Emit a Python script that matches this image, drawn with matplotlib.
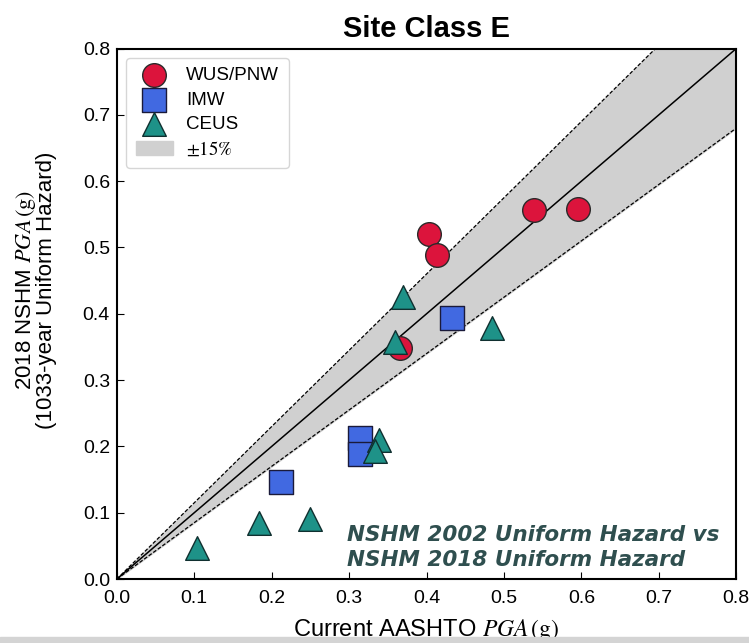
import numpy as np
import matplotlib.pyplot as plt
from matplotlib.patches import Rectangle

plt.rcParams['font.family'] = ['Liberation Sans', 'DejaVu Sans']
plt.rcParams['mathtext.fontset'] = 'stix'

# PGA values: current AASHTO (x) vs 2018 NSHM (y)
wus_x = [0.403, 0.413, 0.366, 0.539, 0.596]
wus_y = [0.520, 0.488, 0.348, 0.557, 0.558]

imw_x = [0.433, 0.314, 0.314, 0.212]
imw_y = [0.393, 0.213, 0.188, 0.147]

ceus_x = [0.370, 0.359, 0.484, 0.338, 0.333, 0.184, 0.249, 0.104]
ceus_y = [0.425, 0.358, 0.378, 0.210, 0.193, 0.085, 0.090, 0.047]

band = 0.15
ticks = [0.0, 0.1, 0.2, 0.3, 0.4, 0.5, 0.6, 0.7, 0.8]

fig = plt.figure(figsize=(7.49, 6.43), dpi=100)
ax = fig.add_axes([0.156, 0.0995, 0.827, 0.825])

# +/-15% band around the 1:1 line
xx = np.linspace(0, 0.8, 200)
ax.fill_between(xx, xx * (1 - band), xx * (1 + band), color='#d0d0d0',
                label='$\\pm 15\\%$', zorder=1)
ax.plot(xx, xx * (1 + band), color='k', lw=0.9, ls=(0, (3, 1.5)), zorder=2)
ax.plot(xx, xx * (1 - band), color='k', lw=0.9, ls=(0, (3, 1.5)), zorder=2)
ax.plot(xx, xx, color='k', lw=1.1, zorder=2)

ms = 290
ax.scatter(wus_x, wus_y, s=ms, marker='o', color='#dc143c', edgecolor='#2a2a2a',
           linewidth=1, label='WUS/PNW', zorder=3)
ax.scatter(imw_x, imw_y, s=ms, marker='s', color='#4169e1', edgecolor='#1a1a3a',
           linewidth=1, label='IMW', zorder=3)
ax.scatter(ceus_x, ceus_y, s=ms, marker='^', color='#1e9288', edgecolor='#103030',
           linewidth=1, label='CEUS', zorder=4)

ax.set_xlim(0, 0.8)
ax.set_ylim(0, 0.8)
ax.set_xticks(ticks)
ax.set_yticks(ticks)
ax.set_xticklabels([f'{t:.1f}' for t in ticks])
ax.set_yticklabels([f'{t:.1f}' for t in ticks])
ax.tick_params(direction='in', labelsize=14, length=5, pad=5)
ax.tick_params(axis='x', pad=8)
for sp in ax.spines.values():
    sp.set_linewidth(1.5)

ax.set_title('Site Class E', fontsize=21, fontweight='bold', pad=8)
ax.set_xlabel('Current AASHTO $PGA\\,\\mathrm{(g)}$', fontsize=17, labelpad=7)
ax.set_ylabel('2018 NSHM $PGA\\,\\mathrm{(g)}$\n(1033-year Uniform Hazard)',
              fontsize=16, linespacing=0.85)
ax.yaxis.set_label_coords(-0.097, 0.545)

handles, labels = ax.get_legend_handles_labels()
order = [1, 2, 3, 0]
ax.legend([handles[i] for i in order], [labels[i] for i in order],
          loc='upper left', fontsize=13.5, frameon=True, edgecolor='#cccccc',
          borderpad=0.5, labelspacing=0.38, handletextpad=0.7,
          handlelength=2.0, bbox_to_anchor=(0.0, 1.0))

note = dict(ha='left', va='center', fontsize=15.5, fontweight='bold',
            style='italic', color='#2f4f4f', family='DejaVu Sans')
ax.text(0.297, 0.066, 'NSHM 2002 Uniform Hazard vs', **note)
ax.text(0.297, 0.028, 'NSHM 2018 Uniform Hazard', **note)

# light strip along the bottom edge
fig.patches.append(Rectangle((0, 0), 1, 6 / 643, transform=fig.transFigure,
                             color='#d4d4d4', zorder=5))

plt.savefig('out.png', dpi=100)
